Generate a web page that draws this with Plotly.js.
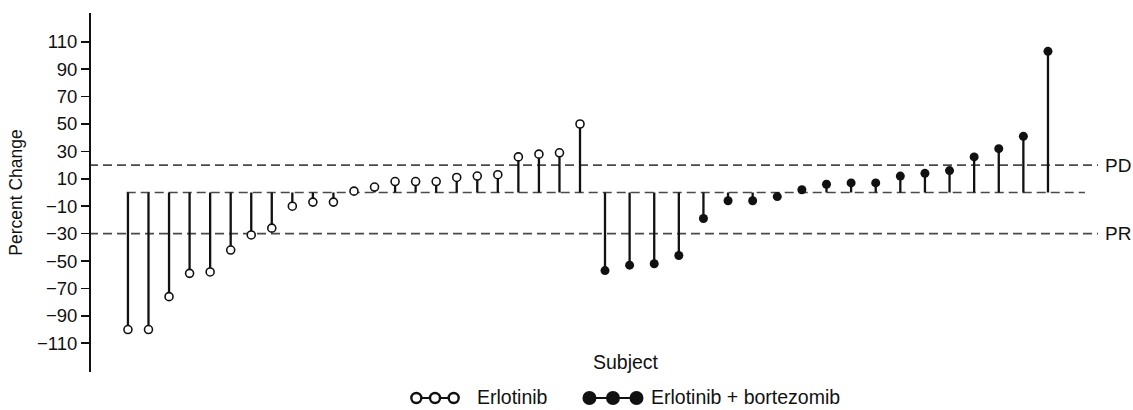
<!DOCTYPE html>
<html>
<head>
<meta charset="utf-8">
<script src="https://cdn.plot.ly/plotly-3.0.1.min.js"></script>
<style>html,body{margin:0;padding:0;background:#fff;}#chart{width:1133px;height:410px;}</style>
</head>
<body>
<div id="chart"></div>
<script>
// Data (percent change per subject, sorted)
const erlotinibValues = [-100, -100, -76, -59, -58, -42, -31, -26, -10, -7, -7, 1, 4, 8, 8, 8, 11, 12, 13, 26, 28, 29, 50];
const comboValues = [-57, -53, -52, -46, -19, -6, -6, -3, 2, 6, 7, 7, 12, 14, 16, 26, 32, 41, 103];
const yTickValues = [-110, -90, -70, -50, -30, -10, 10, 30, 50, 70, 90, 110];
const thresholdPD = 20;
const thresholdPR = -30;
const seriesNames = ["Erlotinib", "Erlotinib + bortezomib"];
const legendGlyph = [0, 1, 2];

function subjects(vals) { return vals.map((v, i) => i + 1); }
function stems(vals) {
  const x = [], y = [];
  vals.forEach((v, i) => { x.push(i + 1, i + 1, null); y.push(0, v, null); });
  return {x, y};
}

const FONT = "Liberation Sans, Arial, Helvetica, sans-serif";
const INK = "#111";
const DASH = "#4a4a4a";

const s1 = stems(erlotinibValues), s2 = stems(comboValues);

const traces = [
  {type: "scatter", mode: "lines", x: s1.x, y: s1.y, xaxis: "x", yaxis: "y",
   line: {color: INK, width: 2.3}, hoverinfo: "skip", showlegend: false},
  {type: "scatter", mode: "markers", x: subjects(erlotinibValues), y: erlotinibValues, xaxis: "x", yaxis: "y",
   name: seriesNames[0], marker: {symbol: "circle", size: 8, color: "#fff", line: {color: INK, width: 1.6}}, showlegend: false},
  {type: "scatter", mode: "lines", x: s2.x, y: s2.y, xaxis: "x2", yaxis: "y",
   line: {color: INK, width: 2.3}, hoverinfo: "skip", showlegend: false},
  {type: "scatter", mode: "markers", x: subjects(comboValues), y: comboValues, xaxis: "x2", yaxis: "y",
   name: seriesNames[1], marker: {symbol: "circle", size: 9, color: INK, line: {color: INK, width: 0}}, showlegend: false},
  // legend glyphs
  {type: "scatter", mode: "lines+markers", x: legendGlyph, y: legendGlyph.map(() => 0), xaxis: "x3", yaxis: "y3",
   line: {color: INK, width: 2}, marker: {size: 10, color: "#fff", line: {color: INK, width: 2.4}}, showlegend: false, hoverinfo: "skip"},
  {type: "scatter", mode: "lines+markers", x: legendGlyph, y: legendGlyph.map(() => 0), xaxis: "x4", yaxis: "y3",
   line: {color: INK, width: 2}, marker: {size: 14, color: INK}, showlegend: false, hoverinfo: "skip"}
];

const hidden = {visible: false, showgrid: false, zeroline: false, fixedrange: true};

const layout = {
  width: 1133, height: 410,
  margin: {l: 89, r: 38, t: 13, b: 0},
  paper_bgcolor: "#fff", plot_bgcolor: "#fff",
  font: {family: FONT, color: INK, size: 18},
  showlegend: false,
  xaxis: Object.assign({}, hidden, {domain: [0.0285, 0.4983], range: [0.5, erlotinibValues.length + 0.5], anchor: "y"}),
  xaxis2: Object.assign({}, hidden, {domain: [0.5007, 0.9655], range: [0.5, comboValues.length + 0.5], anchor: "y"}),
  xaxis3: Object.assign({}, hidden, {domain: [0.3161, 0.3718], range: [-0.5, 2.5], anchor: "y3"}),
  xaxis4: Object.assign({}, hidden, {domain: [0.4858, 0.5559], range: [-0.5, 2.5], anchor: "y3"}),
  yaxis: {
    domain: [0.0957, 1], range: [-131, 131], anchor: "free", position: 0,
    tickvals: yTickValues, ticktext: yTickValues.map(v => v < 0 ? "\u2212" + Math.abs(v) : String(v)),
    ticks: "outside", ticklen: 8, tickwidth: 1.5, tickcolor: INK,
    showline: true, linecolor: INK, linewidth: 1.5,
    showgrid: false, zeroline: false, fixedrange: true,
    tickfont: {size: 18.5, color: INK},
    title: {text: "Percent Change", font: {size: 17.5, color: INK}, standoff: 8}
  },
  yaxis3: Object.assign({}, hidden, {domain: [0.0075, 0.0529], range: [-1, 1], anchor: "x3"}),
  shapes: [
    {type: "line", xref: "paper", yref: "y", x0: 0, x1: 1.003, y0: thresholdPD, y1: thresholdPD,
     line: {color: DASH, width: 1.6, dash: "9px,5px"}, layer: "below"},
    {type: "line", xref: "paper", yref: "y", x0: 0, x1: 1.003, y0: thresholdPR, y1: thresholdPR,
     line: {color: DASH, width: 1.6, dash: "9px,5px"}, layer: "below"},
    {type: "line", xref: "paper", yref: "y", x0: 0.0375, x1: 0.990, y0: 0, y1: 0,
     line: {color: DASH, width: 1.6, dash: "9px,5px"}, layer: "below"}
  ],
  annotations: [
    {text: "PD", xref: "paper", yref: "y", x: 1, y: thresholdPD, xanchor: "left", yanchor: "middle", xshift: 8,
     showarrow: false, font: {size: 19, color: INK}},
    {text: "PR", xref: "paper", yref: "y", x: 1, y: thresholdPR, xanchor: "left", yanchor: "middle", xshift: 8,
     showarrow: false, font: {size: 19, color: INK}},
    {text: "Subject", xref: "paper", yref: "paper", x: 0.5336, y: 0.1209, xanchor: "center", yanchor: "middle",
     showarrow: false, font: {size: 19.5, color: INK}},
    {text: seriesNames[0], xref: "paper", yref: "paper", x: 0.3867, y: 0.0327, xanchor: "left", yanchor: "middle",
     xshift: -2, borderpad: 0, showarrow: false, font: {size: 19.5, color: INK}},
    {text: seriesNames[1], xref: "paper", yref: "paper", x: 0.5593, y: 0.0327, xanchor: "left", yanchor: "middle",
     xshift: -2, borderpad: 0, showarrow: false, font: {size: 19.5, color: INK}}
  ]
};

Plotly.newPlot("chart", traces, layout, {displayModeBar: false, staticPlot: true});
</script>
</body>
</html>
